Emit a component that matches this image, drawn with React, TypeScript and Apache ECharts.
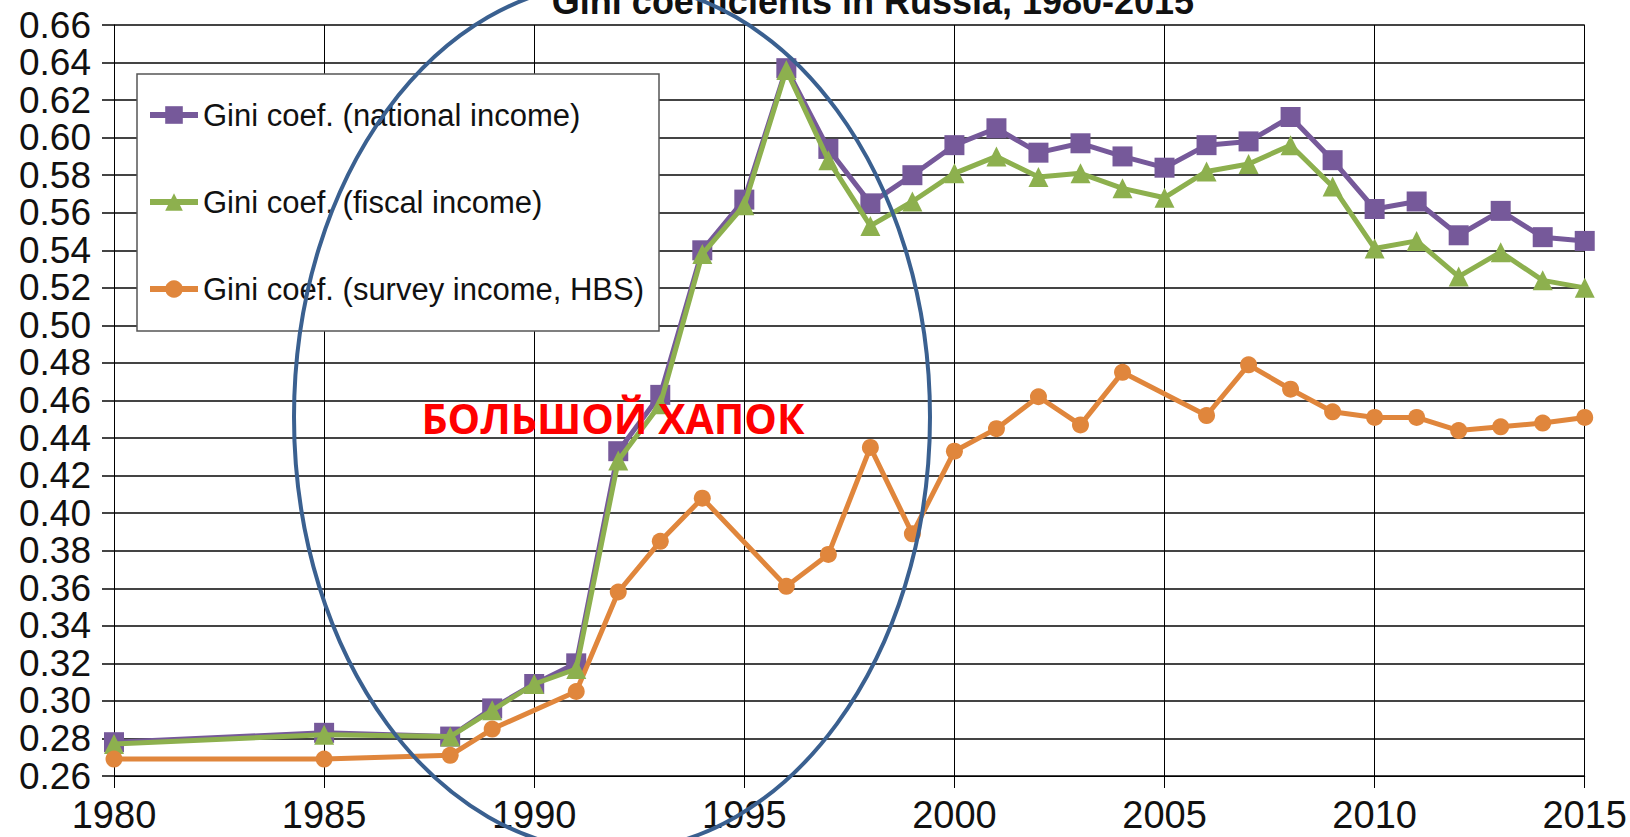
import React, { useEffect, useRef } from "react";
import * as echarts from "echarts";

const mainYears = [1980, 1985, 1988, 1989, 1990, 1991, 1992, 1993, 1994, 1995, 1996, 1997, 1998, 1999, 2000, 2001, 2002, 2003, 2004, 2005, 2006, 2007, 2008, 2009, 2010, 2011, 2012, 2013, 2014, 2015];
const nationalIncome = [0.278, 0.283, 0.281, 0.296, 0.309, 0.320, 0.433, 0.463, 0.540, 0.567, 0.637, 0.594, 0.565, 0.580, 0.596, 0.605, 0.592, 0.597, 0.590, 0.584, 0.596, 0.598, 0.611, 0.588, 0.562, 0.566, 0.548, 0.561, 0.547, 0.545];
const fiscalIncome = [0.277, 0.282, 0.281, 0.295, 0.309, 0.317, 0.428, 0.458, 0.538, 0.564, 0.636, 0.588, 0.553, 0.566, 0.581, 0.590, 0.579, 0.581, 0.573, 0.568, 0.582, 0.586, 0.596, 0.574, 0.541, 0.545, 0.526, 0.539, 0.524, 0.520];
const surveyYears = [1980, 1985, 1988, 1989, 1991, 1992, 1993, 1994, 1996, 1997, 1998, 1999, 2000, 2001, 2002, 2003, 2004, 2006, 2007, 2008, 2009, 2010, 2011, 2012, 2013, 2014, 2015];
const surveyIncome = [0.269, 0.269, 0.271, 0.285, 0.305, 0.358, 0.385, 0.408, 0.361, 0.378, 0.435, 0.389, 0.433, 0.445, 0.462, 0.447, 0.475, 0.452, 0.479, 0.466, 0.454, 0.451, 0.451, 0.444, 0.446, 0.448, 0.451];

const seriesNames = ["Gini coef. (national income)", "Gini coef. (fiscal income)", "Gini coef. (survey income, HBS)"];
const titleText = "Gini coefficients in Russia, 1980-2015";
const annotationText = "БОЛЬШОЙ ХАПОК";

const FONT = "'Liberation Sans', Arial, sans-serif";

export default function App() {
  const ref = useRef<HTMLDivElement>(null);
  useEffect(() => {
    const chart = echarts.init(ref.current!, null, { renderer: "svg" });
    const pairs = (xs: number[], ys: number[]) => xs.map((x, i) => [x, ys[i]]);
    chart.setOption({
      animation: false,
      backgroundColor: "#ffffff",
      grid: { left: 114, top: 25, width: 1471, height: 751, containLabel: false },
      xAxis: {
        type: "value",
        min: 1980,
        max: 2015,
        interval: 5,
        axisLine: { show: true, onZero: false, lineStyle: { color: "#000", width: 1 } },
        axisTick: { show: true, length: 12, lineStyle: { color: "#000", width: 1 } },
        axisLabel: {
          fontSize: 38,
          color: "#111",
          margin: 20,
          fontFamily: FONT,
          formatter: (v: number) => String(v),
        },
        splitLine: { show: true, lineStyle: { color: "#000", width: 1 } },
      },
      yAxis: {
        type: "value",
        min: 0.26,
        max: 0.66,
        interval: 0.02,
        axisLine: { show: true, lineStyle: { color: "#000", width: 1 } },
        axisTick: { show: true, length: 12, lineStyle: { color: "#444", width: 2 } },
        axisLabel: {
          fontSize: 37,
          color: "#111",
          margin: 23,
          fontFamily: FONT,
          formatter: (v: number) => v.toFixed(2),
        },
        splitLine: { show: true, lineStyle: { color: "#444", width: 2 } },
      },
      legend: {
        orient: "vertical",
        left: 147,
        top: 99,
        padding: 0,
        itemGap: 55,
        itemWidth: 48,
        itemHeight: 22,
        z: 5,
        lineStyle: { width: 6 },
        textStyle: { fontSize: 31, lineHeight: 32, color: "#111", fontFamily: FONT },
        data: seriesNames,
      },
      series: [
        {
          name: seriesNames[0],
          type: "line",
          data: pairs(mainYears, nationalIncome),
          symbol: "rect",
          symbolSize: 20,
          lineStyle: { width: 5, color: "#76599A" },
          itemStyle: { color: "#76599A" },
          z: 2,
        },
        {
          name: seriesNames[1],
          type: "line",
          data: pairs(mainYears, fiscalIncome),
          symbol: "triangle",
          symbolSize: 20,
          lineStyle: { width: 5, color: "#8DB04E" },
          itemStyle: { color: "#8DB04E" },
          z: 3,
        },
        {
          name: seriesNames[2],
          type: "line",
          data: pairs(surveyYears, surveyIncome),
          symbol: "circle",
          symbolSize: 17,
          lineStyle: { width: 5, color: "#E0863C" },
          itemStyle: { color: "#E0863C" },
          z: 3,
        },
      ],
      graphic: [
        {
          type: "rect",
          z: 4,
          silent: true,
          shape: { x: 137, y: 74, width: 522, height: 257 },
          style: { fill: "#ffffff", stroke: "#555", lineWidth: 1.5 },
        },
        {
          type: "text",
          z: 20,
          silent: true,
          x: 873,
          y: 1,
          style: {
            text: titleText,
            fontSize: 36,
            fontWeight: "bold",
            fontFamily: FONT,
            fill: "#111",
            align: "center",
            verticalAlign: "middle",
          },
        },
        {
          type: "ellipse",
          z: 20,
          silent: true,
          shape: { cx: 612, cy: 417, rx: 318, ry: 434 },
          style: { fill: "none", stroke: "#3A6090", lineWidth: 4 },
        },
        {
          type: "text",
          z: 21,
          silent: true,
          x: 613,
          y: 418,
          style: {
            text: annotationText,
            fontSize: 41,
            fontWeight: "bold",
            fontFamily: "'Open Sans', 'Noto Sans', sans-serif",
            fill: "#FF0000",
            align: "center",
            verticalAlign: "middle",
          },
        },
      ],
    });
    return () => chart.dispose();
  }, []);
  return (
    <div
      ref={ref}
      style={{ position: "fixed", left: 0, top: 0, width: 1630, height: 837, background: "#fff" }}
    />
  );
}
